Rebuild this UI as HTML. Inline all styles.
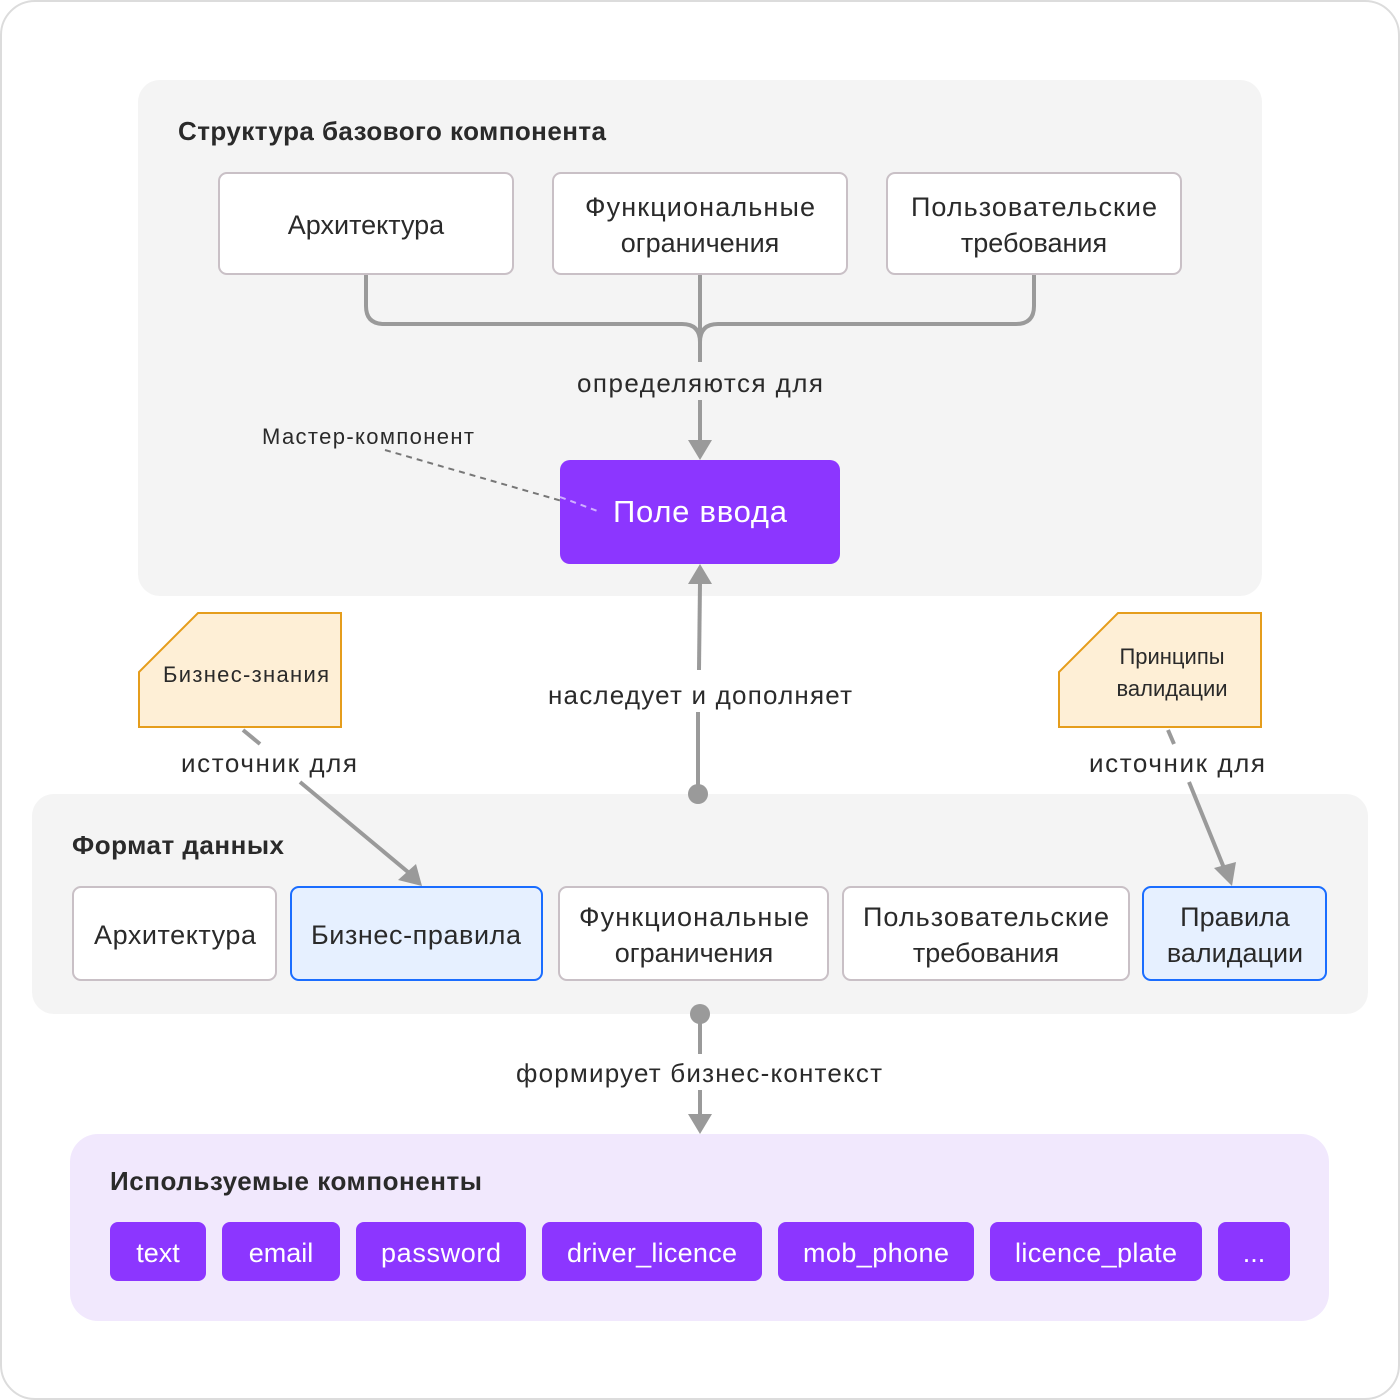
<!DOCTYPE html>
<html><head><meta charset="utf-8"><style>
html,body{margin:0;padding:0;background:#fff}
svg{display:block}
text{font-family:"Liberation Sans",sans-serif;fill:#2a2a2a}
</style></head><body>
<svg width="1400" height="1400" viewBox="0 0 1400 1400" xmlns="http://www.w3.org/2000/svg">
<rect x="1" y="1" width="1398" height="1398" rx="34" fill="#fff" stroke="#dcdcdc" stroke-width="2"/>
<rect x="138" y="80" width="1124" height="516" rx="22" fill="#f4f4f4"/>
<rect x="32" y="794" width="1336" height="220" rx="22" fill="#f4f4f4"/>
<rect x="70" y="1134" width="1259" height="187" rx="28" fill="#f1e8fd"/>
<text x="178" y="140" font-size="26" font-weight="bold" textLength="428">Структура базового компонента</text>
<g fill="#fff" stroke="#c9c0c6" stroke-width="2">
<rect x="219" y="173" width="294" height="101" rx="8"/>
<rect x="553" y="173" width="294" height="101" rx="8"/>
<rect x="887" y="173" width="294" height="101" rx="8"/>
</g>
<g font-size="27" text-anchor="middle">
<text x="366" y="234">Архитектура</text>
<text x="700" y="216" textLength="230">Функциональные</text><text x="700" y="252">ограничения</text>
<text x="1034" y="216" textLength="246">Пользовательские</text><text x="1034" y="252">требования</text>
</g>
<g fill="none" stroke="#9a9a9a" stroke-width="4">
<path d="M366 275 V306 Q366 324 384 324 H682 Q700 324 700 342"/>
<path d="M1034 275 V306 Q1034 324 1016 324 H718 Q700 324 700 342"/>
<path d="M700 275 V362"/>
<path d="M700 400 V442"/>
<path d="M699 670 L700 582"/>
<path d="M698 712 V794"/>
<path d="M700 1014 V1054"/>
<path d="M700 1090 V1116"/>
<path d="M243 730 L260 744"/>
<path d="M300 782 L408 872"/>
<path d="M1168 730 L1174 744"/>
<path d="M1189 782 L1224 868"/>
</g>
<g fill="#9a9a9a">
<polygon points="688,440 712,440 700,460"/>
<polygon points="688,584 712,584 700,564"/>
<polygon points="688,1114 712,1114 700,1134"/>
<polygon points="398,880 416,864 422,886"/>
<polygon points="1214,868 1236,862 1232,886"/>
<circle cx="698" cy="794" r="10"/>
<circle cx="700" cy="1014" r="10"/>
</g>
<g font-size="26" text-anchor="middle" fill="#444">
<text x="700" y="392" textLength="246">определяются для</text>
<text x="269" y="772" textLength="176">источник для</text>
<text x="1177" y="772" textLength="176">источник для</text>
<text x="700" y="704" textLength="304">наследует и дополняет</text>
<text x="699" y="1082" textLength="366">формирует бизнес-контекст</text>
</g>
<text x="262" y="444" font-size="22" fill="#444" textLength="212">Мастер-компонент</text>
<path d="M385 450 L600 512" stroke="#777" stroke-width="2" stroke-dasharray="6,5" fill="none"/>
<rect x="560" y="460" width="280" height="104" rx="10" fill="#8c36ff"/>
<path d="M560 497 L600 512" stroke="#d0b0ff" stroke-width="2" stroke-dasharray="6,5" fill="none"/>
<text x="700" y="522" font-size="31" text-anchor="middle" style="fill:#fff" textLength="174">Поле ввода</text>
<polygon points="198,613 341,613 341,727 139,727 139,672" fill="#feefd6" stroke="#e59d1c" stroke-width="2"/>
<text x="246" y="682" font-size="22" text-anchor="middle" textLength="166">Бизнес-знания</text>
<polygon points="1118,613 1261,613 1261,727 1059,727 1059,672" fill="#feefd6" stroke="#e59d1c" stroke-width="2"/>
<text x="1172" y="664" font-size="22" text-anchor="middle">Принципы</text>
<text x="1172" y="696" font-size="22" text-anchor="middle">валидации</text>
<text x="72" y="854" font-size="26" font-weight="bold" textLength="212">Формат данных</text>
<g stroke-width="2">
<rect x="73" y="887" width="203" height="93" rx="8" fill="#fff" stroke="#c9c0c6"/>
<rect x="291" y="887" width="251" height="93" rx="8" fill="#e6f0ff" stroke="#1a6dff"/>
<rect x="559" y="887" width="269" height="93" rx="8" fill="#fff" stroke="#c9c0c6"/>
<rect x="843" y="887" width="286" height="93" rx="8" fill="#fff" stroke="#c9c0c6"/>
<rect x="1143" y="887" width="183" height="93" rx="8" fill="#e6f0ff" stroke="#1a6dff"/>
</g>
<g font-size="27" text-anchor="middle">
<text x="175" y="944" textLength="162">Архитектура</text>
<text x="416" y="944" textLength="210">Бизнес-правила</text>
<text x="694" y="926" textLength="230">Функциональные</text><text x="694" y="962">ограничения</text>
<text x="986" y="926" textLength="246">Пользовательские</text><text x="986" y="962">требования</text>
<text x="1235" y="926">Правила</text><text x="1235" y="962">валидации</text>
</g>
<text x="110" y="1190" font-size="26" font-weight="bold" textLength="372">Используемые компоненты</text>
<g fill="#8c36ff">
<rect x="110" y="1222" width="96" height="59" rx="8"/>
<rect x="222" y="1222" width="118" height="59" rx="8"/>
<rect x="356" y="1222" width="170" height="59" rx="8"/>
<rect x="542" y="1222" width="220" height="59" rx="8"/>
<rect x="778" y="1222" width="196" height="59" rx="8"/>
<rect x="990" y="1222" width="212" height="59" rx="8"/>
<rect x="1218" y="1222" width="72" height="59" rx="8"/>
</g>
<g font-size="27" text-anchor="middle">
<text x="158" y="1262" style="fill:#fff">text</text>
<text x="281" y="1262" style="fill:#fff">email</text>
<text x="441" y="1262" style="fill:#fff" textLength="120">password</text>
<text x="652" y="1262" style="fill:#fff" textLength="170">driver_licence</text>
<text x="876" y="1262" style="fill:#fff" textLength="146">mob_phone</text>
<text x="1096" y="1262" style="fill:#fff" textLength="162">licence_plate</text>
<text x="1254" y="1262" style="fill:#fff">...</text>
</g>
</svg>
</body></html>
